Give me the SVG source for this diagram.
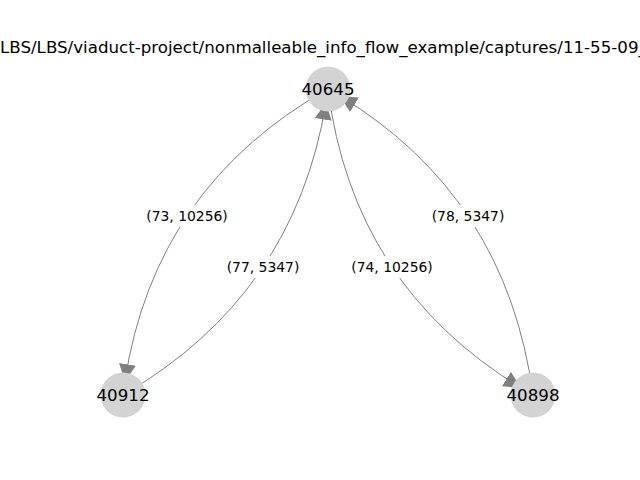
<svg xmlns="http://www.w3.org/2000/svg" width="640" height="480" viewBox="0 0 640 480">
<style>
.edge{fill:none;stroke:#808080;stroke-width:1;}
.node circle{fill:#d3d3d3;}
.node text{font-family:"DejaVu Sans",sans-serif;font-size:16.67px;fill:#000;text-anchor:middle;}
.lbl rect{fill:#fff;}
.lbl text{font-family:"DejaVu Sans",sans-serif;font-size:13.9px;fill:#000;text-anchor:middle;}
.title{font-family:"DejaVu Sans",sans-serif;font-size:16.67px;fill:#000;}
</style>
<defs>
<marker id="ah" markerUnits="userSpaceOnUse" markerWidth="18" markerHeight="18" refX="17" refY="8.5" orient="auto" viewBox="0 0 18 18">
<path d="M0,0 L17,8.5 L0,17 z" fill="#808080"/>
</marker>
</defs>
<rect width="640" height="480" fill="#fff"/>
<text class="title" x="0" y="53">LBS/LBS/viaduct-project/nonmalleable_info_flow_example/captures/11-55-09_</text>
<g id="edges">
<path class="edge" d="M328,89 Q154.6,186.57 124.92,381.18" marker-end="url(#ah)"/>
<path class="edge" d="M123,395 Q294.46,295.5 325.96,102.69" marker-end="url(#ah)"/>
<path class="edge" d="M328,89 Q352.63,285.1 520.97,387.88" marker-end="url(#ah)"/>
<path class="edge" d="M533,395 Q506.43,196.97 339.91,95.99" marker-end="url(#ah)"/>
</g>
<g id="edge-labels">
<g class="lbl"><rect x="143" y="205" width="88" height="22" rx="3"/><text x="187" y="221">(73, 10256)</text></g>
<g class="lbl"><rect x="223" y="256" width="80" height="22" rx="3"/><text x="263" y="272">(77, 5347)</text></g>
<g class="lbl"><rect x="348" y="256" width="88" height="22" rx="3"/><text x="392" y="272">(74, 10256)</text></g>
<g class="lbl"><rect x="428" y="205" width="80" height="22" rx="3"/><text x="468" y="221">(78, 5347)</text></g>
</g>
<g id="n40645" class="node"><circle cx="328" cy="89" r="22.5"/><text x="328" y="95">40645</text></g>
<g id="n40912" class="node"><circle cx="123" cy="395" r="22.5"/><text x="123" y="401">40912</text></g>
<g id="n40898" class="node"><circle cx="533" cy="395" r="22.5"/><text x="533" y="401">40898</text></g>
</svg>
